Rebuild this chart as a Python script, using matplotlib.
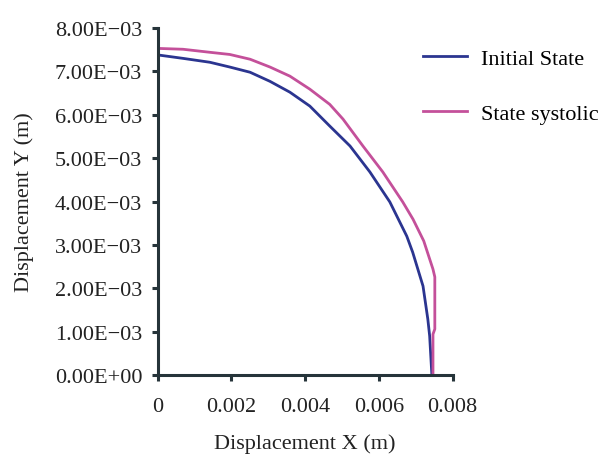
import numpy as np
import matplotlib
matplotlib.use("Agg")
import matplotlib.pyplot as plt
from matplotlib.ticker import FuncFormatter

# Curve points (m)
initial_x = [0.0, 0.00069, 0.00142, 0.00196, 0.00251, 0.00305, 0.00359, 0.00413,
             0.00467, 0.00522, 0.00576, 0.00630, 0.00676, 0.00692, 0.00720,
             0.00733, 0.00738, 0.00744]
initial_y = [7.38e-3, 7.30e-3, 7.21e-3, 7.10e-3, 6.98e-3, 6.77e-3, 6.52e-3, 6.20e-3,
             5.74e-3, 5.28e-3, 4.68e-3, 3.99e-3, 3.20e-3, 2.83e-3, 2.05e-3,
             1.29e-3, 0.90e-3, 0.0]

systolic_x = [0.0, 0.00069, 0.00142, 0.00196, 0.00251, 0.00305, 0.00359, 0.00413,
              0.00467, 0.00503, 0.00557, 0.00611, 0.00665, 0.00693, 0.00722,
              0.00747, 0.00752, 0.00752, 0.00747, 0.00747]
systolic_y = [7.53e-3, 7.51e-3, 7.44e-3, 7.39e-3, 7.28e-3, 7.10e-3, 6.89e-3, 6.59e-3,
              6.24e-3, 5.90e-3, 5.28e-3, 4.68e-3, 3.99e-3, 3.59e-3, 3.09e-3,
              2.44e-3, 2.26e-3, 1.06e-3, 0.94e-3, 0.0]

x_ticks = [0, 0.002, 0.004, 0.006, 0.008]
x_tick_labels = ["0", "0.002", "0.004", "0.006", "0.008"]
y_ticks = [0, 1e-3, 2e-3, 3e-3, 4e-3, 5e-3, 6e-3, 7e-3, 8e-3]

plt.rcParams['font.family'] = ['Liberation Serif', 'DejaVu Serif']

fig = plt.figure(figsize=(6.07, 4.56), dpi=100)
ax = fig.add_axes([0.2595, 0.1754, 0.4860, 0.7610])

ax.plot(initial_x, initial_y, color="#2b3590", lw=2.0, label="Initial State")
ax.plot(systolic_x, systolic_y, color="#c4509a", lw=2.0, label="State systolic")

ax.set_xlim(0, 0.008)
ax.set_ylim(0, 8e-3)
ax.set_xticks(x_ticks)
ax.set_xticklabels(x_tick_labels)
ax.set_yticks(y_ticks)
ax.yaxis.set_major_formatter(
    FuncFormatter(lambda v, p: f"{v:.2E}".replace("-", "\u2212")))

spine_col = "#26343a"
for s in ["top", "right"]:
    ax.spines[s].set_visible(False)
for s in ["left", "bottom"]:
    ax.spines[s].set_color(spine_col)
    ax.spines[s].set_linewidth(2.2)
ax.tick_params(direction="out", length=4, width=2.2, color=spine_col,
               labelsize=16, labelcolor="#222222")
ax.tick_params(axis="y", pad=7)
ax.tick_params(axis="x", pad=12)

ax.set_xlabel("Displacement X (m)", fontsize=16, labelpad=12, color="#222222")
ax.set_ylabel("Displacement Y (m)", fontsize=16, labelpad=15, color="#222222")

fig.legend(handles=ax.get_lines(), loc="upper left",
           bbox_to_anchor=(423 / 607, 1 - 49 / 456), frameon=False,
           fontsize=16, handlelength=2.0, labelspacing=1.55, handletextpad=0.6,
           borderpad=0, borderaxespad=0)

fig.savefig("out.png", dpi=100)
